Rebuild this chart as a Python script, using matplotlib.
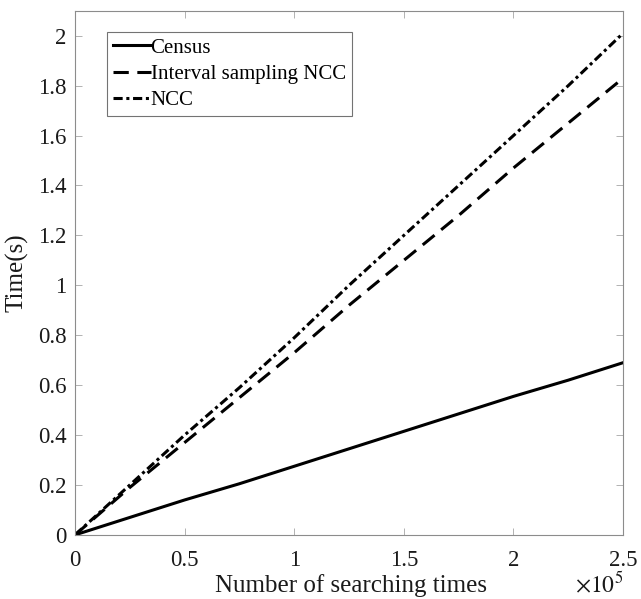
import matplotlib.pyplot as plt

# searching times (x 1e5)
n_search = [0, 0.25, 0.5, 0.75, 1.0, 1.25, 1.5, 1.75, 2.0, 2.25, 2.5]
# time in seconds
t_census = [0, 0.07, 0.14, 0.205, 0.275, 0.345, 0.415, 0.485, 0.555, 0.62, 0.69]
t_interval = [0, 0.19, 0.37, 0.55, 0.73, 0.92, 1.10, 1.28, 1.47, 1.65, 1.83]
t_ncc = [0, 0.20, 0.40, 0.59, 0.79, 1.00, 1.20, 1.40, 1.60, 1.80, 2.01]

plt.rcParams['font.family'] = ['Liberation Serif', 'DejaVu Serif']

fig = plt.figure(figsize=(6.41, 5.99), dpi=100)
ax = fig.add_axes([0.117, 0.107, 0.855, 0.875])

ax.plot(n_search, t_census, color='k', lw=2.2, ls='-', label='Census')
ax.plot(n_search, t_interval, color='k', lw=2.2, ls=(0, (5, 2.8)), label='Interval sampling NCC')
ax.plot(n_search, t_ncc, color='k', lw=2.2, ls=(0, (3, 1.2, 1, 1.2)), label='NCC')

ax.set_xlim(0, 2.5)
ax.set_ylim(0, 2.1)
ax.set_xticks([0, 0.5, 1, 1.5, 2, 2.5])
ax.set_xticklabels(['0', '0.5', '1', '1.5', '2', '2.5'])
ax.set_yticks([0, 0.2, 0.4, 0.6, 0.8, 1, 1.2, 1.4, 1.6, 1.8, 2])
ax.set_yticklabels(['0', '0.2', '0.4', '0.6', '0.8', '1', '1.2', '1.4', '1.6', '1.8', '2'])

for s in ax.spines.values():
    s.set_color('0.55')
    s.set_linewidth(0.8)
ax.tick_params(direction='in', top=True, right=True, length=5, width=0.6,
               color='0.65', labelsize=16.5, labelcolor='0.1')
ax.tick_params(axis='x', pad=11)
ax.tick_params(axis='y', pad=6)

# x label sits right at the bottom edge, like the original
fig.text(0.547, 0.011, 'Number of searching times', ha='center', va='baseline',
         fontsize=18, color='0.1')
ax.set_ylabel('Time(s)', fontsize=18, color='0.1')
ax.yaxis.set_label_coords(-0.084, 0.5)
fig.text(0.972, 0.004, r'$\times10^5$', ha='right', va='bottom', fontsize=17,
         math_fontfamily='stix', color='0.1')

leg = ax.legend(loc='upper left', bbox_to_anchor=(0.058, 0.96), fontsize=15,
                handlelength=1.8, handletextpad=0.0, borderpad=0.3,
                labelspacing=0.32, borderaxespad=0, fancybox=False,
                framealpha=1)
leg.get_frame().set_edgecolor('0.45')
leg.get_frame().set_linewidth(0.8)

plt.savefig('out.png', dpi=100)
